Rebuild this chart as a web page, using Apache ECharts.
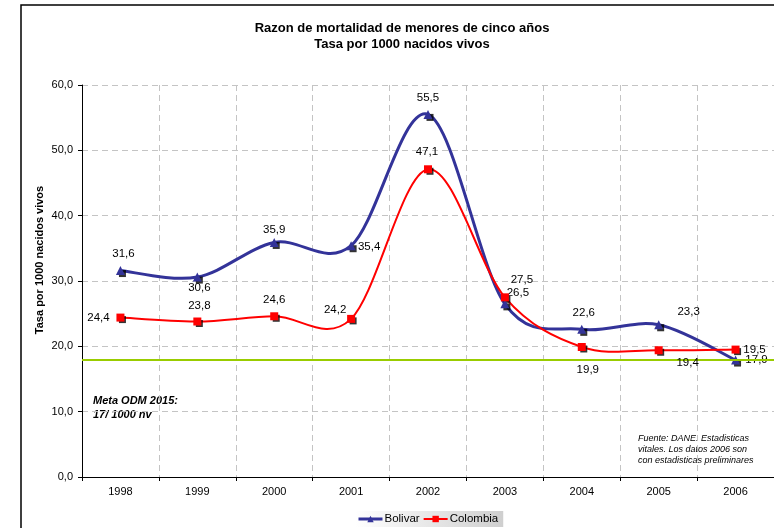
<!DOCTYPE html>
<html>
<head>
<meta charset="utf-8">
<script src="https://cdn.jsdelivr.net/npm/echarts@6/dist/echarts.min.js"></script>
<style>html,body{margin:0;padding:0;background:#fff}#c{width:774px;height:528px}</style>
</head>
<body>
<div id="c"></div>
<script>
var years = ['1998','1999','2000','2001','2002','2003','2004','2005','2006'];
var bolivar = [31.6, 30.6, 35.9, 35.4, 55.5, 26.5, 22.6, 23.3, 17.9];
var colombia = [24.4, 23.8, 24.6, 24.2, 47.1, 27.5, 19.9, 19.4, 19.5];
var meta = 18;
var yTicks = [0, 10, 20, 30, 40, 50, 60];

var FONT = 'Liberation Sans, Arial, Helvetica, sans-serif';
var BLUE = '#333399', RED = '#ff0000';
var bolOff = [[3,-17],[2,11],[0,-13],[18,1],[0,-17],[13,-11],[2,-17],[30,-13],[21,0]];
var colOff = [[-22,0],[2,-16],[0,-16],[-16,-9],[-1,-17],[17,-18],[6,23],[29,13],[19,0]];

function fmt(v){ return v.toFixed(1).replace('.', ','); }
function withLabels(vals, offs){
  return vals.map(function(v, i){ return { value: v, label: { offset: offs[i] } }; });
}
// Catmull-Rom style smoothing (like spreadsheet smoothed lines), drawn via the axis scales
function smoothSeries(vals, color, width, z){
  return {
    type: 'custom', z: z, silent: true,
    data: vals.map(function(v, i){ return [i, v]; }),
    renderItem: function(params, api){
      var i = params.dataIndex, n = vals.length;
      if (i >= n - 1) return null;
      var p0 = api.coord([Math.max(i-1,0), vals[Math.max(i-1,0)]]);
      var p1 = api.coord([i, vals[i]]);
      var p2 = api.coord([i+1, vals[i+1]]);
      var p3 = api.coord([Math.min(i+2,n-1), vals[Math.min(i+2,n-1)]]);
      return {
        type: 'bezierCurve',
        shape: {
          x1: p1[0], y1: p1[1], x2: p2[0], y2: p2[1],
          cpx1: p1[0] + (p2[0]-p0[0])/6, cpy1: p1[1] + (p2[1]-p0[1])/6,
          cpx2: p2[0] - (p3[0]-p1[0])/6, cpy2: p2[1] - (p3[1]-p1[1])/6
        },
        style: { fill: null, stroke: color, lineWidth: width, lineCap: 'round' }
      };
    }
  };
}

var chart = echarts.init(document.getElementById('c'), null, {renderer:'canvas'});
chart.setOption({
  animation: false,
  textStyle: { fontFamily: FONT },
  grid: { left: 82, right: 0, top: 85, bottom: 51 },
  legend: {
    data: [
      { name: 'Bolivar', lineStyle: { color: BLUE, width: 3, opacity: 1 } },
      { name: 'Colombia', lineStyle: { color: RED, width: 2, opacity: 1 } }
    ],
    left: 355, top: 511,
    itemWidth: 24, itemHeight: 8, itemGap: 3,
    padding: [2, 5, 2, 2],
    backgroundColor: { type: 'linear', x: 0, y: 0, x2: 1, y2: 0,
      colorStops: [{offset: 0, color: '#ffffff'}, {offset: 1, color: '#cfcfcf'}] },
    textStyle: { fontSize: 11.5, color: '#000', fontFamily: FONT, padding: [0,0,0,-3] }
  },
  xAxis: {
    type: 'category', data: years, boundaryGap: true,
    axisLine: { lineStyle: { color: '#000', width: 1 } },
    axisTick: { show: true, length: 4, lineStyle: { color: '#000' } },
    axisLabel: { fontSize: 11, color: '#000', margin: 9, fontFamily: FONT },
    splitLine: { show: true, lineStyle: { color: '#c4c4c4', type: [6, 4] } }
  },
  yAxis: {
    type: 'value', min: yTicks[0], max: yTicks[yTicks.length-1], interval: 10,
    axisLine: { show: true, lineStyle: { color: '#000', width: 1 } },
    axisTick: { show: true, length: 4, lineStyle: { color: '#000' } },
    axisLabel: { fontSize: 11, color: '#000', margin: 9, fontFamily: FONT, formatter: function(v){ return fmt(v); } },
    splitLine: { show: true, lineStyle: { color: '#c4c4c4', type: [6, 4] } }
  },
  series: [
    smoothSeries(bolivar, BLUE, 3, 2),
    smoothSeries(colombia, RED, 2, 2),
    {
      type: 'scatter', data: bolivar, symbol: 'rect', symbolSize: 7, symbolOffset: [2, 3],
      itemStyle: { color: '#000' }, z: 3, silent: true
    },
    {
      type: 'scatter', data: colombia, symbol: 'rect', symbolSize: 7, symbolOffset: [2, 2],
      itemStyle: { color: '#000' }, z: 3, silent: true
    },
    {
      name: 'Bolivar', type: 'line', data: withLabels(bolivar, bolOff),
      symbol: 'triangle', symbolSize: 9, z: 4,
      lineStyle: { color: BLUE, width: 3, opacity: 0 },
      itemStyle: { color: BLUE },
      label: { show: true, position: 'inside', align: 'center', verticalAlign: 'middle',
        fontSize: 11.5, color: '#000', fontFamily: FONT,
        formatter: function(p){ return fmt(p.value); } }
    },
    {
      name: 'Colombia', type: 'line', data: withLabels(colombia, colOff),
      symbol: 'rect', symbolSize: 8, z: 5,
      lineStyle: { color: RED, width: 2, opacity: 0 },
      itemStyle: { color: RED },
      label: { show: true, position: 'inside', align: 'center', verticalAlign: 'middle',
        fontSize: 11.5, color: '#000', fontFamily: FONT,
        formatter: function(p){ return fmt(p.value); } },
      markLine: {
        silent: true, symbol: ['none', 'none'], label: { show: false },
        lineStyle: { color: '#99cc00', width: 2, type: 'solid', opacity: 1 },
        data: [{ yAxis: meta }]
      }
    }
  ],
  graphic: [
    { type: 'rect', shape: { x: 21, y: 5, width: 800, height: 600 },
      style: { fill: 'none', stroke: '#000', lineWidth: 1.5 }, silent: true },
    { type: 'text', x: 402, y: 28, style: { text: 'Razon de mortalidad de menores de cinco años',
      font: 'bold 13px ' + FONT, fill: '#000', textAlign: 'center', textVerticalAlign: 'middle' } },
    { type: 'text', x: 402, y: 44, style: { text: 'Tasa por 1000 nacidos vivos',
      font: 'bold 13px ' + FONT, fill: '#000', textAlign: 'center', textVerticalAlign: 'middle' } },
    { type: 'text', x: 40, y: 260, rotation: Math.PI / 2, style: { text: 'Tasa por 1000 nacidos vivos',
      font: 'bold 11px ' + FONT, fill: '#000', textAlign: 'center', textVerticalAlign: 'middle' } },
    { type: 'text', x: 93, y: 401, style: { text: 'Meta ODM 2015:',
      font: 'italic bold 11px ' + FONT, fill: '#000', textAlign: 'left', textVerticalAlign: 'middle' } },
    { type: 'text', x: 93, y: 415, style: { text: '17/ 1000 nv',
      font: 'italic bold 11px ' + FONT, fill: '#000', textAlign: 'left', textVerticalAlign: 'middle' } },
    { type: 'text', x: 638, y: 438, style: { text: 'Fuente: DANE. Estadisticas',
      font: 'italic 9px ' + FONT, fill: '#000', textAlign: 'left', textVerticalAlign: 'middle' } },
    { type: 'text', x: 638, y: 449, style: { text: 'vitales. Los datos 2006 son',
      font: 'italic 9px ' + FONT, fill: '#000', textAlign: 'left', textVerticalAlign: 'middle' } },
    { type: 'text', x: 638, y: 460, style: { text: 'con estadisticas preliminares',
      font: 'italic 9px ' + FONT, fill: '#000', textAlign: 'left', textVerticalAlign: 'middle' } }
  ]
});
</script>
</body>
</html>
